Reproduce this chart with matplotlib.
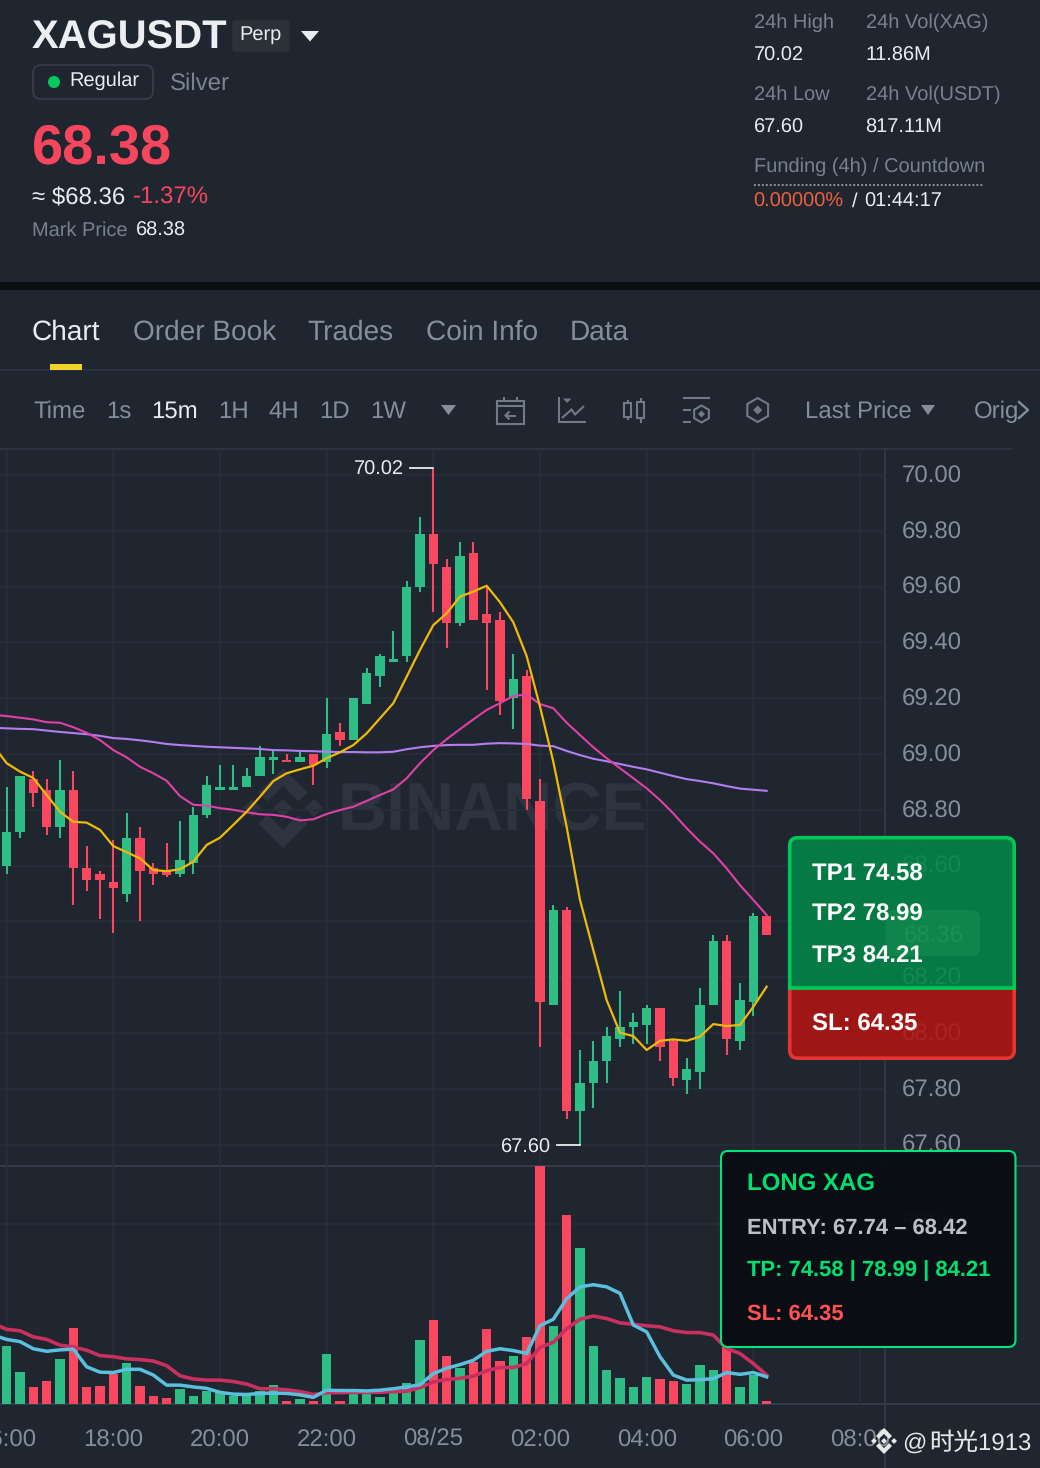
import matplotlib
matplotlib.use("Agg")
import matplotlib.pyplot as plt
from matplotlib.patches import FancyBboxPatch, Rectangle, Polygon, Circle, RegularPolygon
from matplotlib.transforms import ScaledTranslation

# ---------- data ----------
opens = [68.60,68.72,68.91,68.87,68.74,68.87,68.59,68.57,68.54,68.50,68.70,68.59,68.58,68.57,68.61,68.78,68.87,68.87,68.88,68.92,
         68.98,68.98,68.97,69.00,68.97,69.08,69.05,69.18,69.28,69.33,69.35,69.60,69.79,69.67,69.47,69.72,69.50,69.48,69.20,69.28,
         68.83,68.10,68.44,67.72,67.82,67.90,67.98,68.02,68.03,68.09,67.97,67.83,67.86,68.10,68.33,67.97,68.11,68.42]
highs = [68.88,68.92,68.94,68.91,68.98,68.94,68.67,68.58,68.69,68.79,68.74,68.61,68.68,68.76,68.81,68.92,68.96,68.96,68.95,69.03,
         69.01,69.00,69.01,69.00,69.20,69.11,69.20,69.31,69.36,69.44,69.62,69.85,70.02,69.70,69.76,69.76,69.60,69.51,69.36,69.30,
         68.91,68.46,68.45,67.94,67.97,68.02,68.15,68.07,68.10,68.09,67.98,67.91,68.16,68.35,68.35,68.18,68.43,68.42]
lows = [68.57,68.70,68.81,68.71,68.70,68.46,68.51,68.41,68.36,68.47,68.40,68.53,68.56,68.56,68.57,68.77,68.87,68.87,68.88,68.92,
        68.93,68.97,68.97,68.89,68.95,69.03,69.05,69.18,69.24,69.33,69.33,69.58,69.51,69.38,69.46,69.48,69.23,69.14,69.09,68.80,
        67.95,68.10,67.69,67.60,67.73,67.82,67.95,67.96,67.96,67.90,67.81,67.78,67.80,68.10,67.92,67.94,68.06,68.35]
closes = [68.72,68.92,68.86,68.74,68.87,68.59,68.55,68.55,68.52,68.70,68.58,68.57,68.565,68.62,68.78,68.89,68.88,68.88,68.92,68.99,
          68.99,68.97,68.99,68.96,69.07,69.05,69.20,69.29,69.35,69.34,69.60,69.79,69.68,69.47,69.71,69.48,69.47,69.19,69.27,68.84,
          68.11,68.44,67.72,67.82,67.90,67.99,68.02,68.04,68.09,67.95,67.84,67.87,68.10,68.33,67.98,68.12,68.42,68.35]
# moving averages start one candle left of the first visible candle
ma7 = [69.03,68.967,68.937,68.914,68.853,68.793,68.757,68.754,68.728,68.67,68.648,68.626,68.584,68.58,68.587,68.614,68.674,68.70,68.746,68.793,
       68.847,68.903,68.931,68.945,68.958,68.985,69.006,69.032,69.074,69.128,69.182,69.277,69.373,69.462,69.504,69.564,69.582,69.603,69.544,69.472,69.351,
       69.17,68.972,68.739,68.477,68.297,68.118,68.001,67.989,67.939,67.972,67.977,67.972,67.987,68.032,68.025,68.029,68.094,68.166]
ma25 = [69.14,69.136,69.13,69.124,69.114,69.112,69.096,69.076,69.05,69.014,68.988,68.954,68.931,68.904,68.849,68.818,68.815,68.806,68.80,68.791,
        68.784,68.782,68.775,68.762,68.766,68.785,68.799,68.811,68.832,68.853,68.873,68.913,68.967,69.014,69.053,69.089,69.124,69.158,69.182,69.208,69.213,
        69.179,69.164,69.112,69.068,69.024,68.985,68.949,68.913,68.877,68.835,68.787,68.734,68.686,68.644,68.59,68.53,68.477,68.423]
ma99 = [69.094,69.092,69.09,69.089,69.084,69.079,69.075,69.071,69.065,69.057,69.054,69.049,69.043,69.036,69.032,69.029,69.026,69.024,69.022,69.02,
        69.018,69.014,69.013,69.011,69.01,69.008,69.007,69.007,69.006,69.006,69.008,69.017,69.024,69.029,69.032,69.033,69.033,69.037,69.039,69.038,69.036,
        69.03,69.028,69.011,68.996,68.983,68.974,68.964,68.954,68.945,68.933,68.921,68.91,68.903,68.895,68.885,68.876,68.872,68.868]
volumes = [161,88,46,62,123,211,45,49,83,112,48,22,14,40,22,35,28,20,20,34,51,6,13,6,138,6,37,32,19,28,
           56,176,231,131,100,116,208,117,133,185,665,216,523,433,161,92,72,45,75,67,62,55,106,92,158,47,79,6]
vol_ma5 = [190,178,172,152,145,149,151,102,87,86,95,95,79,51,51,46,42,31,26,25,28,29,28,24,17,37,36,36,35,37,41,
           46,52,83,98,108,120,145,152,147,139,216,234,291,324,330,324,306,218,199,130,79,65,66,69,86,81,86,74]
vol_ma10 = [222,206,202,185,178,162,157,148,133,130,124,122,118,105,77,68,65,65,61,54,41,41,38,33,25,30,30,31,31,31,33,
            34,44,60,67,70,76,91,100,100,111,156,170,208,234,243,236,224,220,216,213,202,197,197,190,153,139,111,79]
price_ticks = [70.00,69.80,69.60,69.40,69.20,69.00,68.80,68.60,68.40,68.20,68.00,67.80,67.60]
price_tick_labels = ["70.00","69.80","69.60","69.40","69.20","69.00","68.80","68.60","68.40","68.20","68.00","67.80","67.60"]
time_positions = [0,8,16,24,32,40,48,56,64]
time_labels = ["16:00","18:00","20:00","22:00","08/25","02:00","04:00","06:00","08:00"]
last_price = 68.36

# ---------- style ----------
BG = "#1F2630"; GRID = "#272E39"; LINE = "#2F3641"
UP = "#2EBD85"; DOWN = "#FB4660"
GREY = "#848E9C"; DIM = "#79818D"; WHITE = "#EAECEF"
plt.rcParams["font.family"] = ["Liberation Sans", "DejaVu Sans"]
plt.rcParams["text.hinting"] = "no_hinting"
plt.rcParams["text.hinting_factor"] = 1
W, H = 1040, 1468
PX = 0.72  # points per pixel at dpi 100

fig = plt.figure(figsize=(W/100, H/100), dpi=100, facecolor=BG)

def axes_px(x0, y0, x1, y1, z):
    a = fig.add_axes([x0/W, 1-y1/H, (x1-x0)/W, (y1-y0)/H], zorder=z)
    a.patch.set_alpha(0)
    return a

bg = axes_px(0, 0, W, H, 0); bg.set_xlim(0, W); bg.set_ylim(H, 0); bg.axis("off")
ov = axes_px(0, 0, W, H, 3); ov.set_xlim(0, W); ov.set_ylim(H, 0); ov.axis("off")
ui = axes_px(0, 0, W, H, 5); ui.set_xlim(0, W); ui.set_ylim(H, 0); ui.axis("off")

def T(ax, x, y, s, px, color, weight="normal", ha="left", **kw):
    return ax.text(x-0.4, y, s, fontsize=px*PX, color=color, fontweight=weight, ha=ha, va="baseline", **kw)

LOGO = [
    [(38.73,53.2),(63.32,28.62),(87.92,53.22),(102.22,38.91),(63.32,0),(24.43,38.9)],
    [(0,63.31),(14.3,49),(28.61,63.31),(14.3,77.61)],
    [(38.73,73.41),(63.32,98),(87.92,73.4),(102.23,87.69),(63.33,126.6),(24.42,87.72)],
    [(98,63.31),(112.3,49),(126.61,63.3),(112.3,77.62)],
    [(77.83,63.3),(63.32,48.78),(48.81,63.28),(63.32,77.78)],
]
def logo(ax, cx, cy, half, color, z):
    k = half/63.31
    for pts in LOGO:
        ax.add_patch(Polygon([(cx+(a-63.31)*k, cy+(b-63.31)*k) for a, b in pts], closed=True, fc=color, ec="none", zorder=z))

# ---------- panels separators ----------
bg.add_patch(Rectangle((0, 282), W, 8, fc="#0B0E11", ec="none"))
bg.plot([0, W], [369.5, 369.5], color=LINE, lw=1.1)
bg.plot([0, 1012], [449, 449], color=LINE, lw=1.2)
bg.plot([0, W], [1166, 1166], color="#343B46", lw=1.5)
bg.plot([0, W], [1403.5, 1403.5], color="#343B46", lw=1.5)
bg.plot([885, 885], [449, 1468], color="#343B46", lw=1.2)
logo(bg, 283, 808, 40, "#2D3440", 1)
T(bg, 337.5, 830, "BINANCE", 67.8, "#2D3440", weight="bold", zorder=1)

# ---------- price panel ----------
pa = axes_px(0, 449, 885, 1166, 2)
vo = axes_px(0, 1166, 885, 1403.5, 2)
xlim = (-0.5, (885-6.667)/13.333)
pa.set_xlim(*xlim); vo.set_xlim(*xlim)
pa.set_ylim(70-(1166-475)/279, 70-(449-475)/279)
vo.set_ylim(0, 237.5*500/180)
for a in (pa, vo):
    for s in a.spines.values():
        s.set_visible(False)
    a.set_axisbelow(True)
    a.set_xticks(time_positions)
    a.grid(True, color=GRID, lw=1.2)
    a.yaxis.tick_right()
    a.tick_params(length=0, labelsize=24*PX, labelcolor=GREY, pad=16.5*PX)
pa.set_yticks(price_ticks); pa.set_yticklabels(price_tick_labels)
pa.tick_params(axis="x", labelbottom=False)
vo.set_yticks([500]); vo.set_yticklabels(["500K"])
vo.set_xticklabels(time_labels)
vo.tick_params(axis="x", pad=43*PX)
for lab in vo.get_xticklabels():
    lab.set_verticalalignment("baseline")
    if "/" in lab.get_text():
        lab.set_transform(lab.get_transform() + ScaledTranslation(0, 2/100, fig.dpi_scale_trans))
up_shift = ScaledTranslation(0, 1.2/100, fig.dpi_scale_trans)
for lab in pa.get_yticklabels() + vo.get_yticklabels():
    lab.set_transform(lab.get_transform() + up_shift)

idx = list(range(len(opens)))
ma_x = list(range(-1, len(opens)))
cols = [UP if c >= o else DOWN for o, c in zip(opens, closes)]
pa.vlines(idx, lows, highs, colors=cols, lw=1.5, zorder=3)
pa.bar(idx, [abs(c-o) for o, c in zip(opens, closes)], bottom=[min(o, c) for o, c in zip(opens, closes)],
       width=0.7, color=cols, zorder=3)
pa.plot(ma_x, ma99, color="#B47EF0", lw=1.5, zorder=4)
pa.plot(ma_x, ma25, color="#E040A8", lw=1.5, zorder=4)
pa.plot(ma_x, ma7, color="#F0B90B", lw=1.6, zorder=4)

hi_i = highs.index(max(highs)); lo_i = lows.index(min(lows))
pa.plot([hi_i-1.75, hi_i], [max(highs)+0.004]*2, color=WHITE, lw=1.3, zorder=5)
pa.plot([lo_i-1.75, lo_i], [min(lows)-0.002]*2, color=WHITE, lw=1.3, zorder=5)
pa.annotate(f"{max(highs):.2f}", (hi_i-2.2, max(highs)), xytext=(0, 1.2), textcoords="offset points",
            fontsize=20*PX, color=WHITE, ha="right", va="center_baseline", zorder=5)
pa.annotate(f"{min(lows):.2f}", (lo_i-2.2, min(lows)), xytext=(0, -0.5), textcoords="offset points",
            fontsize=20*PX, color=WHITE, ha="right", va="center_baseline", zorder=5)

# last-price badge sits over the axis labels
ov.add_patch(FancyBboxPatch((886, 910), 94, 46, boxstyle="round,pad=0,rounding_size=8",
                            fc="#6B7176", ec="none", zorder=2))
ov.annotate(f"{last_price:.2f}", (933.5, 934), fontsize=24*PX, color="#C4CCD4",
            ha="center", va="center_baseline", zorder=3)

# ---------- volume panel ----------
vo.bar(idx, volumes, width=0.7, color=cols, zorder=3)
vo.plot(ma_x, vol_ma10, color="#C9305F", lw=2.6, zorder=4)
vo.plot(ma_x, vol_ma5, color="#5BC0DE", lw=2.5, zorder=5)

# ---------- header ----------
T(ui, 32.5, 48.5, "XAGUSDT", 40.3, "#EDEEF1", "bold")
ui.add_patch(FancyBboxPatch((235, 23), 52, 26, boxstyle="round,pad=0,rounding_size=1", fc="#2B3139", ec="#2B3139", lw=4))
T(ui, 240, 40, "Perp", 20, WHITE)
ui.add_patch(Polygon([(301, 31), (319, 31), (310, 41.5)], fc="#EAECEF", ec="none"))
ui.add_patch(FancyBboxPatch((33, 65), 120, 34, boxstyle="round,pad=0,rounding_size=8", fc="none", ec="#363D48", lw=1.3))
ui.add_patch(Circle((54, 82), 6, fc="#05C95F", ec="none"))
T(ui, 70, 85.5, "Regular", 20, WHITE)
T(ui, 170, 90, "Silver", 24, "#7C8491")
T(ui, 32.5, 163.5, "68.38", 56.3, "#F6465D", "bold")
T(ui, 32, 204, "≈ $68.36", 24, WHITE)
T(ui, 133, 204, "-1.37%", 24, "#F6465D")
T(ui, 32, 236, "Mark Price", 20, DIM)
T(ui, 136, 236, "68.38", 20, WHITE)
T(ui, 754, 28, "24h High", 20, DIM); T(ui, 754, 60.8, "70.02", 20, WHITE)
T(ui, 866, 28, "24h Vol(XAG)", 20, DIM); T(ui, 866, 60.8, "11.86M", 20, WHITE)
T(ui, 754, 100, "24h Low", 20, DIM); T(ui, 754, 132.8, "67.60", 20, WHITE)
T(ui, 866, 100, "24h Vol(USDT)", 20, DIM); T(ui, 866, 132.8, "817.11M", 20, WHITE)
T(ui, 754, 171.5, "Funding (4h) / Countdown", 20, DIM)
ui.plot([754, 984], [184.8, 184.8], color="#9AA1AB", lw=1.3, ls=(0, (1, 1.2)))
T(ui, 754, 206.5, "0.00000%", 20, "#F0603A")
T(ui, 852, 206.5, "/", 20, WHITE)
T(ui, 865, 206.5, "01:44:17", 20, WHITE)

# ---------- tabs ----------
for x, s, c in [(32, "Chart", WHITE), (133, "Order Book", GREY), (308, "Trades", GREY), (426, "Coin Info", GREY), (570, "Data", GREY)]:
    T(ui, x, 340, s, 28, c)
ui.add_patch(Rectangle((50, 364), 32, 6, fc="#F0D22B", ec="none"))

# ---------- toolbar ----------
for x, s, c in [(34, "Time", GREY), (107, "1s", GREY), (152, "15m", WHITE), (219, "1H", GREY), (269, "4H", GREY),
                (320, "1D", GREY), (371, "1W", GREY), (805, "Last Price", GREY), (974, "Orig", GREY)]:
    T(ui, x, 418, s, 24, c)
for k, xf in enumerate(range(1004, 1016, 2)):
    ui.add_patch(Rectangle((xf, 395), 2, 32, fc=BG, ec="none", alpha=(k+1)/6))
ui.add_patch(Rectangle((1016, 395), 24, 32, fc=BG, ec="none"))
ui.add_patch(Polygon([(441, 405), (456, 405), (448.5, 415)], fc=GREY, ec="none"))
ui.add_patch(Polygon([(921, 405), (935, 405), (928, 415)], fc=GREY, ec="none"))
ui.plot([1019, 1028, 1019], [402, 410, 418], color=GREY, lw=1.7)
IC = "#727A87"; ILW = 1.5
def L(xs, ys):
    ui.plot(xs, ys, color=IC, lw=ILW, solid_capstyle="butt", solid_joinstyle="miter")
# calendar icon
ui.add_patch(Rectangle((497, 401), 26.5, 22.5, fc="none", ec=IC, lw=ILW))
L([497, 523.5], [406, 406]); L([503.5, 503.5], [397, 401]); L([516.5, 516.5], [397, 401])
L([505.5, 515.5], [415.5, 415.5]); L([509.5, 505.5, 509.5], [411.5, 415.5, 419.5])
# indicator icon
L([559.3, 559.3, 585.5], [397, 422.3, 422.3])
ui.add_patch(Polygon([(563, 398.5), (571.5, 398.5), (567, 403)], fc=IC, ec="none"))
L([562, 571.5, 575, 584], [418, 409.5, 414.5, 406])
# candle icon
for cx, t, b, wt, wb in [(627.7, 403, 416.5, 400, 419.5), (640.7, 402, 418, 397.5, 423)]:
    ui.add_patch(Rectangle((cx-3.3, t), 6.6, b-t, fc="none", ec=IC, lw=ILW))
    L([cx, cx], [wt, t]); L([cx, cx], [b, wb])
# settings icon
L([682.5, 710], [397.7, 397.7]); L([682.5, 691], [410, 410]); L([682.5, 691], [422.3, 422.3])
ui.add_patch(RegularPolygon((701.5, 414), 6, radius=8.5, fc="none", ec=IC, lw=ILW))
ui.add_patch(Polygon([(701.5, 410.5), (705, 414), (701.5, 417.5), (698, 414)], fc=IC, ec="none"))
# hexagon icon
ui.add_patch(RegularPolygon((757.7, 410), 6, radius=12, fc="none", ec=IC, lw=ILW))
ui.add_patch(Polygon([(757.7, 405.5), (762.2, 410), (757.7, 414.5), (753.2, 410)], fc=IC, ec="none"))

# ---------- TP / SL card ----------
def card(fc, ec, clip):
    p = FancyBboxPatch((789.7, 837.7), 224.5, 220.5, boxstyle="round,pad=0,rounding_size=8", fc=fc, ec=ec, lw=2.6, zorder=6)
    ui.add_patch(p)
    p.set_clip_path(Rectangle((780, clip[0]), 250, clip[1]-clip[0], transform=ui.transData))
card((2/255, 135/255, 71/255, 0.88), "#00C853", (830, 990))
card((178/255, 20/255, 19/255, 0.88), "#E5352F", (990, 1065))
ui.plot([789.7, 1014.2], [988.3, 988.3], color="#00C853", lw=2.6, zorder=7, solid_capstyle="butt")
for y, s in [(880.5, "TP1 74.58"), (921, "TP2 78.99"), (962.5, "TP3 84.21"), (1030.5, "SL: 64.35")]:
    T(ui, 812.4, y, s, 24, "white", "bold", zorder=8)

# ---------- long card ----------
ui.add_patch(FancyBboxPatch((721, 1151), 294.5, 196, boxstyle="round,pad=0,rounding_size=7",
                            fc=(10/255, 13/255, 20/255, 0.97), ec="#00E676", lw=1.5, zorder=6))
T(ui, 747, 1190.5, "LONG XAG", 24, "#00E070", "bold", zorder=8)
T(ui, 747, 1233.5, "ENTRY: 67.74 – 68.42", 22, "#BEBFC3", "bold", zorder=8)
T(ui, 747, 1276, "TP: 74.58 | 78.99 | 84.21", 22, "#00E070", "bold", zorder=8)
T(ui, 747, 1320, "SL: 64.35", 22, "#FF5252", "bold", zorder=8)

# ---------- footer watermark ----------
logo(ui, 884, 1441, 13, "#E8E8E8", 8)
FOOT = ["Liberation Sans", "Noto Sans CJK SC", "DejaVu Sans"]
ui.text(902, 1450, "@", fontsize=24*PX, color="#E6E6E6", ha="left", va="baseline", family=FOOT, zorder=8)
ui.text(929, 1450, "时光1913", fontsize=24.5*PX, color="#E6E6E6", ha="left", va="baseline", family=FOOT, zorder=8)

fig.savefig("out.png", dpi=100, facecolor=BG)
